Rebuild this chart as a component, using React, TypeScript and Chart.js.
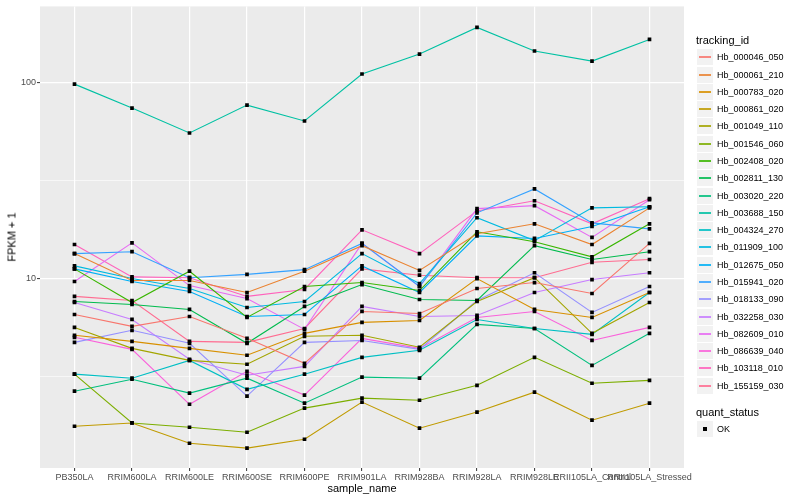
import React, { useEffect, useRef } from "react";
import { Chart, registerables } from "chart.js";

Chart.register(...registerables);

const categories = [
  "PB350LA",
  "RRIM600LA",
  "RRIM600LE",
  "RRIM600SE",
  "RRIM600PE",
  "RRIM901LA",
  "RRIM928BA",
  "RRIM928LA",
  "RRIM928LE",
  "RRII105LA_Control",
  "RRII105LA_Stressed",
];

const trackingIds = [
  "Hb_000046_050",
  "Hb_000061_210",
  "Hb_000783_020",
  "Hb_000861_020",
  "Hb_001049_110",
  "Hb_001546_060",
  "Hb_002408_020",
  "Hb_002811_130",
  "Hb_003020_220",
  "Hb_003688_150",
  "Hb_004324_270",
  "Hb_011909_100",
  "Hb_012675_050",
  "Hb_015941_020",
  "Hb_018133_090",
  "Hb_032258_030",
  "Hb_082609_010",
  "Hb_086639_040",
  "Hb_103118_010",
  "Hb_155159_030",
];

const seriesColors = [
  "#F8766D", "#EA8331", "#D89000", "#C09B00", "#A3A500",
  "#7CAE00", "#39B600", "#00BB4E", "#00BF7D", "#00C1A3",
  "#00BFC4", "#00BAE0", "#00B0F6", "#35A2FF", "#9590FF",
  "#C77CFF", "#E76BF3", "#FA62DB", "#FF62BC", "#FF6C91",
];

const hb000046_050 = [6.56, 5.71, 6.41, 4.96, 3.7, 6.8, 6.64, 8.9, 9.54, 8.39, 15.1];
const hb000061_210 = [13.4, 9.77, 9.77, 8.49, 10.9, 14.7, 11.0, 16.9, 19.0, 14.9, 22.9];
const hb000783_020 = [5.14, 4.79, 4.41, 4.07, 5.26, 5.98, 6.12, 10.0, 6.96, 6.34, 8.49];
const hb000861_020 = [1.77, 1.84, 1.45, 1.37, 1.52, 2.35, 1.73, 2.09, 2.64, 1.9, 2.32];
const hb001049_110 = [5.64, 4.41, 3.83, 3.66, 5.08, 5.14, 4.47, 7.64, 10.1, 5.26, 7.55];
const hb001546_060 = [3.26, 1.84, 1.75, 1.65, 2.19, 2.46, 2.4, 2.86, 3.97, 2.93, 3.03];
const hb002408_020 = [11.2, 7.55, 10.9, 6.34, 9.11, 9.54, 8.69, 17.3, 15.4, 12.9, 19.0];
const hb002811_130 = [7.64, 7.38, 6.96, 4.68, 7.21, 9.32, 7.82, 7.73, 14.7, 12.5, 13.7];
const hb003020_220 = [2.67, 3.07, 2.61, 3.11, 2.32, 3.15, 3.11, 5.84, 5.57, 3.61, 5.26];
const hb003688_150 = [97.7, 73.8, 55.1, 76.4, 63.4, 110, 139, 190, 144, 128, 165];
const hb004324_270 = [3.26, 3.11, 3.83, 2.73, 3.26, 3.97, 4.31, 6.19, 5.57, 5.2, 8.49];
const hb011909_100 = [11.6, 10.0, 8.9, 7.12, 7.64, 13.4, 9.43, 20.4, 15.6, 22.9, 23.2];
const hb012675_050 = [11.2, 9.66, 8.59, 6.41, 6.56, 11.6, 8.49, 16.5, 16.0, 18.4, 23.2];
const hb015941_020 = [13.4, 13.7, 10.1, 10.5, 11.1, 15.1, 9.11, 21.6, 28.6, 19.2, 17.9];
const hb018133_090 = [4.73, 5.45, 4.68, 2.52, 4.73, 4.84, 4.36, 7.73, 10.7, 6.72, 9.11];
const hb032258_030 = [7.55, 6.19, 3.88, 3.22, 3.57, 7.21, 6.41, 6.49, 8.49, 9.88, 10.7];
const hb082609_010 = [9.66, 15.2, 9.21, 7.91, 5.51, 15.1, 9.11, 22.7, 23.5, 16.2, 25.2];
const hb086639_040 = [5.02, 4.36, 2.29, 3.37, 2.55, 4.96, 4.41, 6.34, 6.8, 4.84, 5.64];
const hb103118_010 = [14.9, 10.2, 10.1, 8.11, 8.8, 17.7, 13.4, 22.1, 24.9, 19.0, 25.5];
const hb155159_030 = [8.11, 7.73, 4.79, 4.73, 5.57, 11.2, 10.4, 10.1, 10.1, 12.1, 12.5];

const seriesValues = [
  hb000046_050, hb000061_210, hb000783_020, hb000861_020, hb001049_110,
  hb001546_060, hb002408_020, hb002811_130, hb003020_220, hb003688_150,
  hb004324_270, hb011909_100, hb012675_050, hb015941_020, hb018133_090,
  hb032258_030, hb082609_010, hb086639_040, hb103118_010, hb155159_030,
];

const yMajorTicks = [10, 100];
const yMinorTicks = [3.1623, 31.623];
const yMin = 1.085;
const yMax = 243;

const FONT = "'Liberation Sans', Arial, Helvetica, sans-serif";

const panelBackground = {
  id: "panelBackground",
  beforeDraw(chart: any) {
    const { ctx, chartArea: a } = chart;
    ctx.save();
    ctx.fillStyle = "#EBEBEB";
    ctx.fillRect(a.left, a.top, a.right - a.left, a.bottom - a.top);
    ctx.restore();
  },
};

function ChartCanvas() {
  const ref = useRef<HTMLCanvasElement | null>(null);

  useEffect(() => {
    if (!ref.current) return;
    const lineSets = seriesValues.map((vals, s) => ({
      type: "line" as const,
      label: trackingIds[s],
      data: vals.map((v, i) => ({ x: i, y: v })),
      borderColor: seriesColors[s],
      borderWidth: 1.1,
      pointRadius: 0,
      fill: false,
      tension: 0,
      order: 1,
    }));
    const pointData: { x: number; y: number }[] = [];
    seriesValues.forEach((vals) => vals.forEach((v, i) => pointData.push({ x: i, y: v })));
    const pointSet = {
      type: "line" as const,
      label: "OK",
      data: pointData,
      showLine: false,
      pointStyle: "rect",
      pointRadius: 2.6,
      pointBackgroundColor: "#000000",
      pointBorderWidth: 0,
      borderColor: "#000000",
      order: 0,
    };

    const allTicks = [...yMinorTicks, ...yMajorTicks].sort((a, b) => a - b);
    const isMajor = (v: number) => yMajorTicks.some((m) => Math.abs(m - v) < 1e-6);

    const chart = new Chart(ref.current, {
      type: "line",
      data: { datasets: [pointSet as any, ...lineSets] },
      plugins: [panelBackground],
      options: {
        animation: false,
        responsive: false,
        events: [],
        layout: { padding: { left: 0, top: 5, right: 116, bottom: 0 } },
        plugins: { legend: { display: false }, tooltip: { enabled: false } },
        scales: {
          x: {
            type: "linear",
            min: -0.6,
            max: categories.length - 1 + 0.6,
            afterBuildTicks: (scale: any) => {
              scale.ticks = categories.map((_, i) => ({ value: i }));
            },
            afterFit: (scale: any) => {
              scale.height = 32;
            },
            border: { display: false },
            grid: {
              color: "#FFFFFF",
              lineWidth: 1.2,
              tickColor: "#333333",
              tickLength: 3,
              tickWidth: 1,
            },
            ticks: {
              autoSkip: false,
              maxRotation: 0,
              minRotation: 0,
              padding: 1,
              color: "#4D4D4D",
              font: { family: FONT, size: 9 },
              callback: (value: any) => categories[Math.round(Number(value))] ?? "",
            },
          },
          y: {
            type: "logarithmic",
            min: yMin,
            max: yMax,
            afterBuildTicks: (scale: any) => {
              scale.ticks = allTicks.map((v) => ({ value: v, major: isMajor(v) }));
            },
            afterFit: (scale: any) => {
              scale.width = 40;
            },
            border: { display: false },
            grid: {
              color: "#FFFFFF",
              lineWidth: (ctx: any) => (ctx.tick && isMajor(ctx.tick.value) ? 1.2 : 0.6),
              tickColor: (ctx: any) =>
                ctx.tick && isMajor(ctx.tick.value) ? "#333333" : "rgba(0,0,0,0)",
              tickLength: 3,
              tickWidth: 1,
            },
            ticks: {
              autoSkip: false,
              padding: 1,
              color: "#4D4D4D",
              font: { family: FONT, size: 9 },
              callback: (value: any) => (isMajor(Number(value)) ? String(Math.round(Number(value))) : ""),
            },
          },
        },
      },
    });
    return () => chart.destroy();
  }, []);

  return (
    <canvas
      ref={ref}
      width={800}
      height={500}
      style={{ position: "absolute", left: 0, top: 0, width: 800, height: 500 }}
    />
  );
}

const textStyle: React.CSSProperties = {
  position: "absolute",
  lineHeight: 1,
  color: "#000",
  whiteSpace: "nowrap",
  fontWeight: 400,
};

function Legend() {
  const rowStep = 17.28;
  const firstRow = 57.3;
  const keyLeft = 697;
  const keySize = 16;
  return (
    <>
      <div style={{ ...textStyle, left: 696, top: 40, transform: "translateY(-50%)", fontSize: 11 }}>
        tracking_id
      </div>
      {trackingIds.map((id, i) => {
        const cy = firstRow + i * rowStep;
        const top = Math.round(cy - keySize / 2);
        return (
          <React.Fragment key={id}>
            <div
              style={{
                position: "absolute",
                left: keyLeft,
                top,
                width: keySize,
                height: keySize,
                background: "#F2F2F2",
              }}
            />
            <div
              style={{
                position: "absolute",
                left: keyLeft + 2,
                top: top + keySize / 2 - 1,
                width: keySize - 4,
                height: 2,
                background: seriesColors[i],
                opacity: 0.85,
              }}
            />
            <div style={{ ...textStyle, left: 717, top: cy, transform: "translateY(-50%)", fontSize: 9 }}>
              {id}
            </div>
          </React.Fragment>
        );
      })}
      <div style={{ ...textStyle, left: 696, top: 412, transform: "translateY(-50%)", fontSize: 11 }}>
        quant_status
      </div>
      <div
        style={{
          position: "absolute",
          left: keyLeft,
          top: 421,
          width: keySize,
          height: keySize,
          background: "#F2F2F2",
        }}
      />
      <div
        style={{
          position: "absolute",
          left: keyLeft + keySize / 2 - 2,
          top: 427,
          width: 4,
          height: 4,
          background: "#000",
        }}
      />
      <div style={{ ...textStyle, left: 717, top: 429, transform: "translateY(-50%)", fontSize: 9 }}>
        OK
      </div>
    </>
  );
}

export default function App() {
  return (
    <div
      style={{
        position: "absolute",
        left: 0,
        top: 0,
        width: 800,
        height: 500,
        background: "#FFFFFF",
        fontFamily: FONT,
        overflow: "hidden",
      }}
    >
      <ChartCanvas />
      <div
        style={{
          ...textStyle,
          left: 12,
          top: 236.5,
          transform: "translate(-50%, -50%) rotate(-90deg)",
          fontSize: 11,
        }}
      >
        FPKM + 1
      </div>
      <div
        style={{
          ...textStyle,
          left: 362,
          top: 488,
          transform: "translate(-50%, -50%)",
          fontSize: 11,
        }}
      >
        sample_name
      </div>
      <Legend />
    </div>
  );
}
